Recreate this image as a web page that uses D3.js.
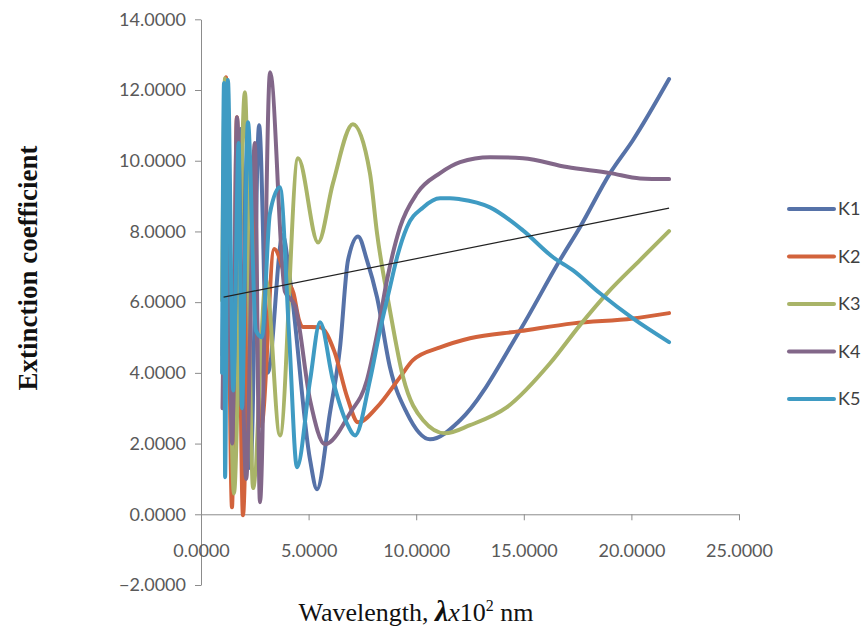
<!DOCTYPE html>
<html><head><meta charset="utf-8">
<script src="https://cdn.jsdelivr.net/npm/d3@7"></script>
<style>body{margin:0;background:#fff}</style>
</head><body>
<svg id="chart" width="866" height="631"></svg>
<script>
const seriesNames = ["K1", "K2", "K3", "K4", "K5"];
const seriesColors = ["#5672a8", "#d2633c", "#a9b468", "#826789", "#3f9bc3"];

const k1X = [1.0, 1.21, 1.5, 1.85, 2.3, 2.7, 3.1, 3.8, 4.14, 5.07, 5.39, 5.99, 6.46, 6.83, 7.3, 7.71, 8.18, 8.78, 9.57, 10.64, 12.04, 14.82, 16.68, 17.61, 19.01, 20.07, 21.75];
const k1Y = [4.5, 11.3, 1.6, 10.9, 1.3, 11.0, 4.0, 7.9, 6.62, 1.53, 0.71, 2.86, 4.72, 7.18, 7.86, 7.19, 6.14, 4.16, 2.86, 2.12, 2.66, 5.2, 7.19, 8.12, 9.65, 10.58, 12.31];

const k2X = [1.0, 1.16, 1.44, 1.67, 1.95, 2.35, 2.8, 3.4, 4.0, 4.3, 4.55, 4.74, 5.53, 6.2, 6.8, 7.3, 8.18, 9.25, 9.85, 11.11, 12.5, 14.82, 17.29, 20.07, 21.75];
const k2Y = [4.0, 12.36, 0.2, 11.23, -0.03, 10.0, 2.5, 7.5, 6.6, 6.25, 5.5, 5.3, 5.29, 4.6, 3.3, 2.6, 3.03, 3.88, 4.36, 4.72, 4.98, 5.18, 5.4, 5.54, 5.69];

const k3X = [0.98, 1.12, 1.53, 2.04, 2.42, 3.02, 3.67, 4.51, 5.44, 6.13, 7.06, 7.85, 8.18, 8.78, 9.39, 10.32, 11.34, 12.5, 14.22, 16.22, 17.61, 18.87, 20.4, 21.75];
const k3Y = [6.05, 12.33, 0.59, 11.94, 0.74, 6.62, 2.23, 10.07, 7.69, 9.36, 11.03, 9.65, 7.95, 5.77, 3.88, 2.66, 2.29, 2.52, 3.03, 4.27, 5.35, 6.25, 7.19, 8.01];

const k4X = [1.0, 1.2, 1.45, 1.67, 2.1, 2.5, 2.74, 3.21, 3.9, 4.37, 5.07, 5.76, 6.92, 7.71, 8.22, 8.64, 9.25, 10.04, 11.11, 12.04, 13.43, 14.96, 17.01, 19.01, 20.4, 21.75];
const k4Y = [3.0, 10.0, 2.0, 11.23, 1.0, 10.5, 0.34, 12.5, 6.3, 5.9, 3.22, 1.98, 2.86, 3.79, 5.21, 6.62, 8.12, 9.08, 9.65, 9.96, 10.1, 10.07, 9.82, 9.65, 9.5, 9.48];

const k5X = [0.98, 1.07, 1.12, 1.25, 1.5, 1.75, 1.9, 2.18, 2.55, 2.83, 3.2, 3.67, 4.1, 4.46, 5.07, 5.53, 6.13, 6.78, 7.16, 7.85, 8.32, 8.78, 9.11, 9.57, 10.32, 11.11, 11.57, 12.04, 13.43, 14.96, 16.36, 17.29, 18.54, 20.07, 21.75];
const k5Y = [4.0, 12.2, 1.05, 12.28, 3.5, 10.5, 3.0, 11.09, 5.2, 5.01, 8.5, 9.25, 5.0, 1.33, 3.79, 5.43, 3.79, 2.57, 2.23, 3.79, 5.21, 6.42, 7.27, 8.12, 8.68, 8.94, 8.94, 8.91, 8.68, 8.03, 7.27, 6.9, 6.25, 5.54, 4.87];

const trendX = [1.05, 21.75];
const trendY = [6.14, 8.66];

const xTicks = [0, 5, 10, 15, 20, 25];
const yTicks = [-2, 0, 2, 4, 6, 8, 10, 12, 14];

const seriesX = [k1X, k2X, k3X, k4X, k5X];
const seriesY = [k1Y, k2Y, k3Y, k4Y, k5Y];

const svg = d3.select("#chart");
const x = d3.scaleLinear().domain([0, 25]).range([201, 739]);
const y = d3.scaleLinear().domain([-2, 14]).range([585, 19.3]);
const fmt = d3.format(".4f");
const tickFont = "Lato, 'Open Sans', sans-serif";

const yAxis = svg.append("g").attr("transform", `translate(${x(0)},0)`)
  .call(d3.axisLeft(y).tickValues(yTicks).tickFormat(fmt).tickSizeInner(6).tickSizeOuter(0).tickPadding(9));
const xAxis = svg.append("g").attr("transform", `translate(0,${y(0)})`)
  .call(d3.axisBottom(x).tickValues(xTicks).tickFormat(fmt).tickSizeInner(6).tickSizeOuter(0).tickPadding(24));
[yAxis, xAxis].forEach(g => {
  g.select(".domain").attr("stroke", "#8c8c8c").attr("stroke-width", 1);
  g.selectAll(".tick line").attr("stroke", "#8c8c8c");
  g.selectAll(".tick text").attr("fill", "#595959").style("font-family", tickFont).style("font-size", "18px");
});

const line = d3.line().x(d => x(d[0])).y(d => y(d[1])).curve(d3.curveMonotoneX);
seriesNames.forEach((name, i) => {
  const pts = seriesX[i].map((v, j) => [v, seriesY[i][j]]);
  svg.append("path").datum(pts)
    .attr("d", line).attr("fill", "none")
    .attr("stroke", seriesColors[i]).attr("stroke-width", 4)
    .attr("stroke-linejoin", "round").attr("stroke-linecap", "round");
});

svg.append("path").datum(trendX.map((v, j) => [v, trendY[j]]))
  .attr("d", d3.line().x(d => x(d[0])).y(d => y(d[1])))
  .attr("fill", "none").attr("stroke", "#222").attr("stroke-width", 1.2);

const legend = svg.append("g");
seriesNames.forEach((name, i) => {
  const ly = 209 + i * 47.5;
  legend.append("line").attr("x1", 789).attr("x2", 834).attr("y1", ly).attr("y2", ly)
    .attr("stroke", seriesColors[i]).attr("stroke-width", 4).attr("stroke-linecap", "round");
  legend.append("text").attr("x", 838).attr("y", ly).attr("dy", "0.35em")
    .attr("fill", "#404040").style("font-family", tickFont).style("font-size", "18px").text(name);
});

svg.append("text").attr("transform", "translate(37,268) rotate(-90)")
  .attr("text-anchor", "middle")
  .style("font-family", "'Liberation Serif', 'Times New Roman', serif")
  .style("font-weight", "bold").style("font-size", "27px").attr("fill", "#111")
  .text("Extinction coefficient");

const xt = svg.append("text").attr("x", 416).attr("y", 621).attr("text-anchor", "middle")
  .style("font-family", "'Liberation Serif', 'Times New Roman', serif")
  .style("font-size", "26px").attr("fill", "#111");
xt.append("tspan").text("Wavelength, ");
xt.append("tspan").style("font-style", "italic").style("font-weight", "bold").style("font-size", "30px").text("λ");
xt.append("tspan").style("font-style", "italic").text("x");
xt.append("tspan").text("10");
xt.append("tspan").attr("dy", "-10").style("font-size", "16px").text("2");
xt.append("tspan").attr("dy", "10").text(" nm");
</script>
</body></html>
